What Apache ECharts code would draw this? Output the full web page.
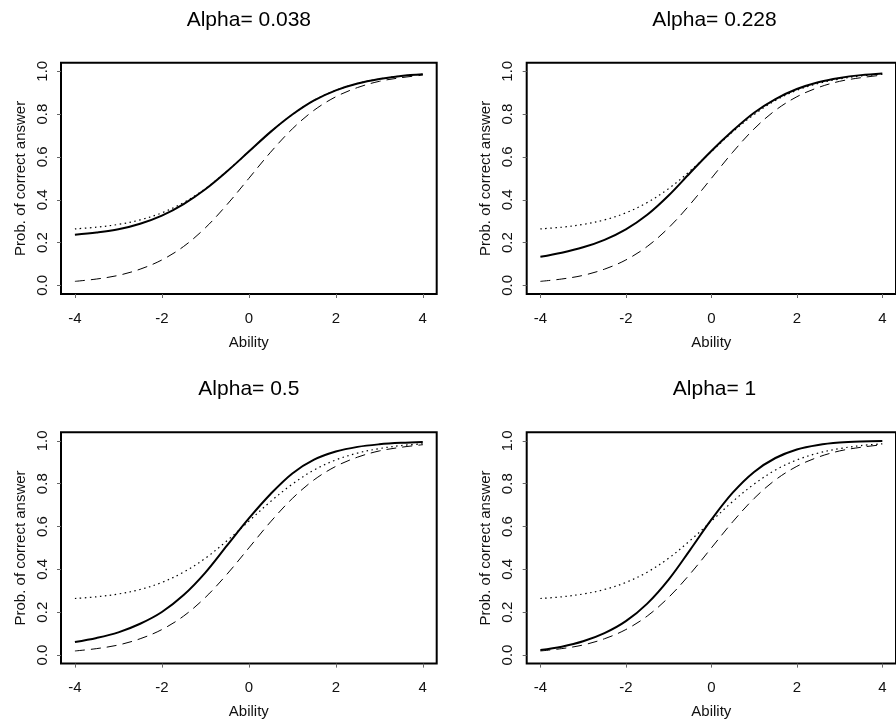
<!DOCTYPE html>
<html>
<head>
<meta charset="utf-8">
<script src="https://cdn.jsdelivr.net/npm/echarts@6/dist/echarts.min.js"></script>
<style>
  html, body { margin: 0; padding: 0; background: #fff; }
  #chart { width: 896px; height: 726px; }
</style>
</head>
<body>
<div id="chart"></div>
<script>
// Ability grid shared by every curve
const ability = [-4, -3.5, -3, -2.5, -2, -1.5, -1, -0.5, 0, 0.5, 1, 1.5, 2, 2.5, 3, 3.5, 4];

// Reference curves drawn in every panel
const probDotted = [0.264, 0.272, 0.285, 0.306, 0.339, 0.387, 0.452, 0.534, 0.625, 0.717, 0.798, 0.864, 0.911, 0.943, 0.964, 0.978, 0.986];
const probDashed = [0.019, 0.030, 0.047, 0.076, 0.119, 0.182, 0.269, 0.378, 0.500, 0.622, 0.731, 0.818, 0.881, 0.924, 0.953, 0.970, 0.982];

// Solid curve for each alpha
const probAlpha0038 = [0.237, 0.247, 0.262, 0.288, 0.326, 0.380, 0.449, 0.533, 0.625, 0.717, 0.798, 0.864, 0.911, 0.943, 0.964, 0.978, 0.986];
const probAlpha0228 = [0.134, 0.153, 0.178, 0.213, 0.262, 0.330, 0.420, 0.525, 0.628, 0.722, 0.806, 0.870, 0.917, 0.949, 0.969, 0.982, 0.990];
const probAlpha05   = [0.061, 0.080, 0.106, 0.146, 0.201, 0.280, 0.385, 0.512, 0.638, 0.752, 0.848, 0.912, 0.950, 0.972, 0.984, 0.991, 0.995];
const probAlpha1    = [0.023, 0.039, 0.064, 0.102, 0.158, 0.240, 0.352, 0.490, 0.632, 0.758, 0.855, 0.920, 0.960, 0.981, 0.992, 0.997, 0.999];

const alphaLabels = ['0.038', '0.228', '0.5', '1'];
const xTicks = [-4, -2, 0, 2, 4];
const yTicks = [0, 0.2, 0.4, 0.6, 0.8, 1.0];

const solidCurves = [probAlpha0038, probAlpha0228, probAlpha05, probAlpha1];

// Panel placement (2 x 2)
const panelLeft = [61, 526.7, 61, 526.7];
const panelTop = [62.7, 62.7, 432.3, 432.3];
const panelW = 375.7;
const panelH = 231.3;

const FONT = '"Liberation Sans", Arial, Helvetica, sans-serif';
const pairs = arr => ability.map((x, i) => [x, arr[i]]);

const grids = [], xAxes = [], yAxes = [], series = [], titles = [];

for (let p = 0; p < 4; p++) {
  grids.push({
    left: panelLeft[p], top: panelTop[p], width: panelW, height: panelH,
    show: true, borderColor: '#000', borderWidth: 2, backgroundColor: 'transparent',
    containLabel: false
  });
  xAxes.push({
    type: 'value', gridIndex: p, min: -4.32, max: 4.32, position: 'bottom',
    name: 'Ability', nameLocation: 'middle', nameGap: 41,
    nameTextStyle: { fontFamily: FONT, fontSize: 15, color: '#111' },
    axisLine: { show: false, onZero: false },
    axisTick: { show: true, length: 4, customValues: xTicks, lineStyle: { color: '#666', width: 1 } },
    axisLabel: { customValues: xTicks, fontFamily: FONT, fontSize: 15, color: '#111', margin: 17,
                 formatter: v => String(v) },
    splitLine: { show: false }
  });
  yAxes.push({
    type: 'value', gridIndex: p, min: -0.04, max: 1.04, position: 'left',
    name: 'Prob. of correct answer', nameLocation: 'middle', nameGap: 33,
    nameTextStyle: { fontFamily: FONT, fontSize: 15, color: '#111' },
    axisLine: { show: false, onZero: false },
    axisTick: { show: true, length: 4, customValues: yTicks, lineStyle: { color: '#666', width: 1 } },
    axisLabel: { customValues: yTicks, rotate: 90, fontFamily: FONT, fontSize: 15, color: '#111', margin: 11,
                 formatter: v => v.toFixed(1) },
    splitLine: { show: false }
  });
  titles.push({
    text: 'Alpha= ' + alphaLabels[p],
    left: panelLeft[p] + panelW / 2 - 5,
    top: panelTop[p] - 42.7 - 5,
    textAlign: 'center', textVerticalAlign: 'middle',
    textStyle: { fontFamily: FONT, fontSize: 21, fontWeight: 'normal', color: '#000' }
  });
  const common = { type: 'line', xAxisIndex: p, yAxisIndex: p, showSymbol: false, smooth: 0.35,
                   silent: true };
  series.push(Object.assign({}, common, {
    data: pairs(probDotted),
    lineStyle: { color: '#000', width: 1.2, type: [1.5, 3.5] }
  }));
  series.push(Object.assign({}, common, {
    data: pairs(probDashed),
    lineStyle: { color: '#000', width: 1, type: [10, 6] }
  }));
  series.push(Object.assign({}, common, {
    data: pairs(solidCurves[p]),
    lineStyle: { color: '#000', width: 2, type: 'solid' }
  }));
}

const chart = echarts.init(document.getElementById('chart'), null, { renderer: 'canvas' });
chart.setOption({
  animation: false,
  backgroundColor: '#fff',
  title: titles,
  grid: grids,
  xAxis: xAxes,
  yAxis: yAxes,
  series: series
});
</script>
</body>
</html>
